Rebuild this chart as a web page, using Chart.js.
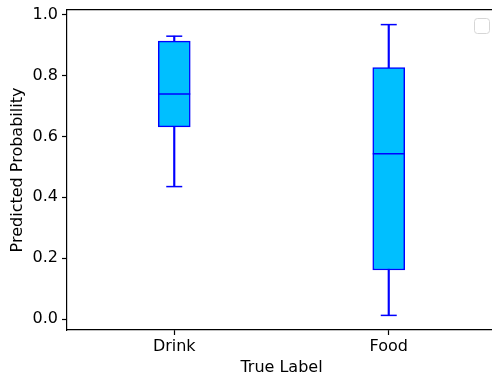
<!DOCTYPE html>
<html><head><meta charset="utf-8">
<script src="https://cdn.jsdelivr.net/npm/chart.js@4.4.1/dist/chart.umd.min.js"></script>
<style>
html,body{margin:0;padding:0;overflow:hidden;background:#fff;width:492px;height:377px}
#wrap{width:496px;height:377px}
</style>
</head><body><div id="wrap"><canvas id="c" width="496" height="377"></canvas></div>
<script>
// ---- data ----
const categories = ['Drink', 'Food'];
const whiskerLow = [0.435, 0.012];
const q1 = [0.631, 0.161];
const median = [0.739, 0.543];
const q3 = [0.913, 0.826];
const whiskerHigh = [0.929, 0.967];
const yTickValues = [0, 0.2, 0.4, 0.6, 0.8, 1.0];
const yLimits = [-0.036, 1.015];
const xLimits = [0.5, 2.5];
const xTitle = 'True Label';
const yTitle = 'Predicted Probability';

// ---- styling ----
const EDGE = '#0000ff';
const FILL = '#00bfff';
const LW = 1.5;
const AXIS = '#000000';

Chart.defaults.font.family = "'DejaVu Sans', sans-serif";
Chart.defaults.font.size = 16;
Chart.defaults.color = '#000';

const pos = categories.map((c, i) => i + 1);

const emptyLegend = {
  id: 'emptyLegend',
  afterDraw(chart) {
    const a = chart.chartArea, ctx = chart.ctx;
    const w = 15, h = 15;
    const x = a.right - 7 - w, y = a.top + 8;
    ctx.save();
    ctx.beginPath();
    ctx.roundRect(x + 0.5, y + 0.5, w, h, 3);
    ctx.fillStyle = 'rgba(255,255,255,0.8)';
    ctx.fill();
    ctx.strokeStyle = '#d6d6d6';
    ctx.lineWidth = 1;
    ctx.stroke();
    ctx.restore();
  }
};

new Chart(document.getElementById('c'), {
  type: 'bar',
  data: {
    datasets: [
      {
        type: 'bar', label: 'whiskers', order: 3, grouped: false,
        data: pos.map((p, i) => ({x: p, y: [whiskerLow[i], whiskerHigh[i]]})),
        backgroundColor: EDGE, borderWidth: 0, barThickness: LW
      },
      {
        type: 'bar', label: 'box', order: 2, grouped: false,
        data: pos.map((p, i) => ({x: p, y: [q1[i], q3[i]]})),
        backgroundColor: FILL, borderColor: EDGE, borderWidth: LW,
        borderSkipped: false, barThickness: 32
      },
      {
        type: 'scatter', label: 'median', order: 1,
        data: pos.map((p, i) => ({x: p, y: median[i]})),
        pointStyle: 'line', pointRadius: 16, borderColor: EDGE, borderWidth: LW,
        pointBorderColor: EDGE, pointBorderWidth: LW
      },
      {
        type: 'scatter', label: 'caps', order: 1,
        data: pos.map((p, i) => ({x: p, y: whiskerLow[i]})).concat(pos.map((p, i) => ({x: p, y: whiskerHigh[i]}))),
        pointStyle: 'line', pointRadius: 8, borderColor: EDGE, borderWidth: LW,
        pointBorderColor: EDGE, pointBorderWidth: LW
      }
    ]
  },
  options: {
    responsive: false,
    animation: false,
    devicePixelRatio: 1,
    events: [],
    layout: {autoPadding: false, padding: {top: 10, left: 0, right: 0, bottom: 0}},
    plugins: {legend: {display: false}, tooltip: {enabled: false}},
    scales: {
      x: {
        type: 'linear', position: 'bottom', min: xLimits[0], max: xLimits[1], offset: false,
        afterBuildTicks: s => { s.ticks = pos.map(v => ({value: v})); },
        afterFit: s => { s.height = 47; s.paddingLeft = 0; s.paddingRight = 0; },
        ticks: {padding: 2, maxRotation: 0, autoSkip: false,
          callback: v => categories[Math.round(v) - 1]},
        grid: {offset: false, drawOnChartArea: false, drawTicks: true, tickLength: 5, tickColor: AXIS, tickWidth: 1.2},
        border: {display: true, color: AXIS, width: 1.2},
        title: {display: true, text: xTitle, padding: {top: 0, bottom: 0}}
      },
      x2: {
        type: 'linear', position: 'top', min: xLimits[0], max: xLimits[1],
        ticks: {display: false}, grid: {display: false},
        border: {display: true, color: AXIS, width: 1.2},
        afterFit: s => { s.height = 0; s.paddingLeft = 0; s.paddingRight = 0; }
      },
      y: {
        type: 'linear', min: yLimits[0], max: yLimits[1],
        afterBuildTicks: s => { s.ticks = yTickValues.map(v => ({value: v})); },
        afterFit: s => { s.width = 67; s.paddingTop = 0; s.paddingBottom = 0; },
        ticks: {padding: 4, callback: v => v.toFixed(1)},
        grid: {drawOnChartArea: false, drawTicks: true, tickLength: 5, tickColor: AXIS, tickWidth: 1.2},
        border: {display: true, color: AXIS, width: 1.2},
        title: {display: true, text: yTitle, padding: {top: 8, bottom: 0}}
      }
    }
  },
  plugins: [emptyLegend]
});
</script>
</body></html>
